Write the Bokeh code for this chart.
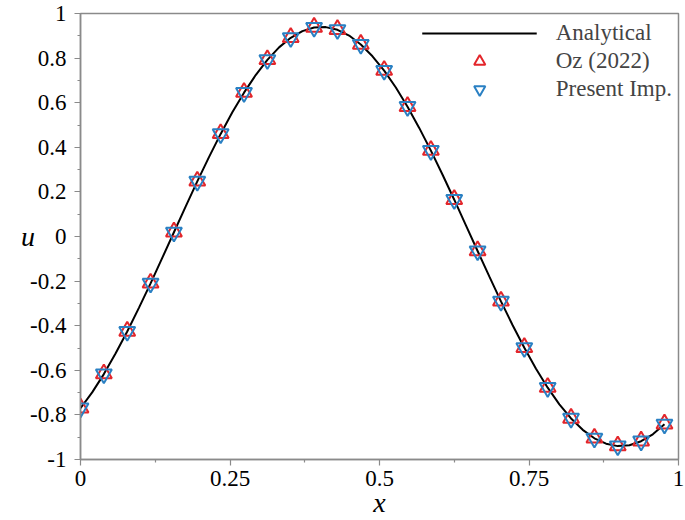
from bokeh.plotting import figure
from bokeh.models import FixedTicker, Legend, LegendItem
from bokeh.embed import file_html
from bokeh.resources import INLINE

# Analytical curve
x_line = [0, 0.01953, 0.03906, 0.05859, 0.07813, 0.09766, 0.11719, 0.13672, 0.15625, 0.17578,
          0.19531, 0.21484, 0.23438, 0.25391, 0.27344, 0.29297, 0.3125, 0.33203, 0.35156, 0.37109,
          0.39063, 0.41016, 0.42969, 0.44922, 0.46875, 0.48828, 0.50781, 0.52734, 0.54688, 0.56641,
          0.58594, 0.60547, 0.625, 0.64453, 0.66406, 0.68359, 0.70313, 0.72266, 0.74219, 0.76172,
          0.78125, 0.80078, 0.82031, 0.83984, 0.85938, 0.87891, 0.89844, 0.91797, 0.9375, 0.95703,
          0.97656]
u_line = [-0.770, -0.699, -0.617, -0.525, -0.426, -0.320, -0.210, -0.096, 0.019, 0.134,
          0.247, 0.356, 0.460, 0.557, 0.645, 0.724, 0.792, 0.848, 0.891, 0.921,
          0.937, 0.939, 0.927, 0.901, 0.861, 0.808, 0.744, 0.668, 0.582, 0.487,
          0.385, 0.277, 0.165, 0.050, -0.065, -0.179, -0.291, -0.398, -0.499, -0.593,
          -0.678, -0.753, -0.816, -0.867, -0.905, -0.929, -0.940, -0.936, -0.918, -0.887,
          -0.842]

# Marker series
x_pts = [0, 0.03906, 0.07813, 0.11719, 0.15625, 0.19531, 0.23438, 0.27344, 0.3125, 0.35156,
         0.39063, 0.42969, 0.46875, 0.50781, 0.54688, 0.58594, 0.625, 0.66406, 0.70313, 0.74219,
         0.78125, 0.82031, 0.85938, 0.89844, 0.9375, 0.97656]
u_oz = [-0.768, -0.615, -0.424, -0.208, 0.021, 0.249, 0.462, 0.647, 0.794, 0.893,
        0.939, 0.929, 0.863, 0.746, 0.584, 0.387, 0.167, -0.063, -0.289, -0.497,
        -0.676, -0.814, -0.903, -0.938, -0.916, -0.840]
u_present = [-0.770, -0.617, -0.426, -0.210, 0.019, 0.247, 0.460, 0.645, 0.792, 0.891,
             0.937, 0.927, 0.861, 0.744, 0.582, 0.385, 0.165, -0.065, -0.291, -0.499,
             -0.678, -0.816, -0.905, -0.940, -0.918, -0.842]

x_ticks = [0, 0.25, 0.5, 0.75, 1]
x_tick_labels = ["0", "0.25", "0.5", "0.75", "1"]
x_minor = [0.125, 0.375, 0.625, 0.875]
y_ticks = [-1, -0.8, -0.6, -0.4, -0.2, 0, 0.2, 0.4, 0.6, 0.8, 1]
y_tick_labels = ["-1", "-0.8", "-0.6", "-0.4", "-0.2", "0", "0.2", "0.4", "0.6", "0.8", "1"]
y_minor = [-0.9, -0.7, -0.5, -0.3, -0.1, 0.1, 0.3, 0.5, 0.7, 0.9]

FONT = "Liberation Serif"
GRAY = "#8a8a8a"
RED = "#e3262b"
BLUE = "#2a80c3"

p = figure(width=684, height=520, x_range=(0, 1), y_range=(-1, 1),
           output_backend="svg", toolbar_location=None,
           min_border_left=80, min_border_right=6, min_border_top=13, min_border_bottom=61,
           x_axis_label="x", y_axis_label="u")
p.xgrid.visible = False
p.ygrid.visible = False
p.outline_line_color = GRAY
p.outline_line_width = 1.5
p.background_fill_color = "white"
p.border_fill_color = "white"

p.xaxis.ticker = FixedTicker(ticks=x_ticks, minor_ticks=x_minor)
p.xaxis.major_label_overrides = {t: l for t, l in zip(x_ticks, x_tick_labels)}
p.yaxis.ticker = FixedTicker(ticks=y_ticks, minor_ticks=y_minor)
p.yaxis.major_label_overrides = {t: l for t, l in zip(y_ticks, y_tick_labels)}

for ax in (p.xaxis, p.yaxis):
    ax.axis_line_color = GRAY
    ax.axis_line_width = 1.5
    ax.major_tick_line_color = GRAY
    ax.minor_tick_line_color = GRAY
    ax.major_tick_line_width = 1.2
    ax.minor_tick_line_width = 1.2
    ax.major_tick_in = 0
    ax.major_tick_out = 6
    ax.minor_tick_in = 0
    ax.minor_tick_out = 3
    ax.major_label_text_font = FONT
    ax.major_label_text_font_size = "23px"
    ax.major_label_text_color = "black"
    ax.axis_label_text_font = FONT
    ax.axis_label_text_font_style = "italic"
    ax.axis_label_text_font_size = "28px"
    ax.axis_label_text_color = "black"
p.xaxis.major_label_standoff = 5
p.yaxis.major_label_standoff = 8
p.xaxis.axis_label_standoff = -2
p.yaxis.axis_label_standoff = -8
p.yaxis.axis_label_orientation = "horizontal"

r_line = p.line(x_line, u_line, line_color="black", line_width=2)
r_oz = p.scatter(x_pts, u_oz, marker="triangle", size=16, fill_alpha=0,
                 line_color=RED, line_width=2)
r_pr = p.scatter(x_pts, u_present, marker="inverted_triangle", size=16, fill_alpha=0,
                 line_color=BLUE, line_width=2)

legend = Legend(items=[LegendItem(label="Analytical", renderers=[r_line]),
                       LegendItem(label="Oz (2022)", renderers=[r_oz]),
                       LegendItem(label="Present Imp.", renderers=[r_pr])],
                location="top_right")
legend.label_text_font = FONT
legend.label_text_font_size = "23px"
legend.glyph_width = 115
legend.glyph_height = 28
legend.label_height = 28
legend.spacing = 0
legend.label_standoff = 19
legend.padding = 6
legend.margin = 0
legend.border_line_alpha = 0
legend.background_fill_alpha = 0
p.add_layout(legend)

open("out.html", "w").write(file_html(p, INLINE))
